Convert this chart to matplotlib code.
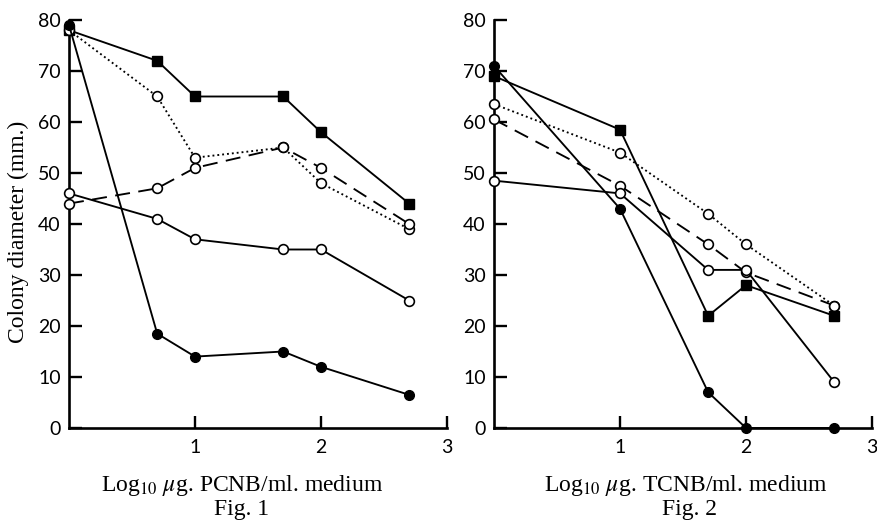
import numpy as np
import matplotlib
matplotlib.use("Agg")
import matplotlib.pyplot as plt

plt.rcParams['font.family'] = ['Lato', 'DejaVu Sans']
plt.rcParams['mathtext.fontset'] = 'stix'

# Fig. 1 - PCNB
x1 = [0, 0.7, 1, 1.7, 2, 2.7]
p_sq = [78, 72, 65, 65, 58, 44]
p_dot = [78, 65, 53, 55, 48, 39]
p_dash = [44, 47, 51, 55, 51, 40]
p_open = [46, 41, 37, 35, 35, 25]
p_fill = [79, 18.5, 14, 15, 12, 6.5]

# Fig. 2 - TCNB
x2 = [0, 1, 1.7, 2, 2.7]
t_fill = [71, 43, 7, 0, 0]
t_sq = [69, 58.5, 22, 28, 22]
t_dot = [63.5, 54, 42, 36, 24]
t_dash = [60.5, 47.5, 36, 30.5, 24]
t_open = [48.5, 46, 31, 31, 9]

xlabels = ['Log$_{10}$ $\\mu$g. PCNB/ml. medium', 'Log$_{10}$ $\\mu$g. TCNB/ml. medium']
figlabels = ['Fig. 1', 'Fig. 2']

W, H = 877, 521
fig = plt.figure(figsize=(W/100, H/100), dpi=100)

def px(l, b, r, t):
    return [l/W, 1 - b/H, (r-l)/W, (b-t)/H]

ax1 = fig.add_axes(px(69, 428, 447, 20))
ax2 = fig.add_axes(px(494, 428, 872, 20))

lw = 1.35
opn = dict(marker='o', ms=7, mfc='white', mec='black', mew=1.2, color='black', lw=lw, clip_on=False, zorder=5)
fil = dict(marker='o', ms=7, mfc='black', mec='black', color='black', lw=lw, clip_on=False, zorder=5)
sqr = dict(marker='s', ms=6.5, mfc='black', mec='black', color='black', lw=lw, clip_on=False, zorder=5)
dash = (0, (8, 4.5))
dots = (0, (1, 1.6))

ax1.plot(x1, p_sq, **sqr)
ax1.plot(x1, p_dot, ls=dots, **opn)
ax1.plot(x1, p_dash, ls=dash, **opn)
ax1.plot(x1, p_open, **opn)
ax1.plot(x1, p_fill, **fil)

ax2.plot(x2, t_fill, **fil)
ax2.plot(x2, t_sq, **sqr)
ax2.plot(x2, t_dot, ls=dots, **opn)
ax2.plot(x2, t_dash, ls=dash, **opn)
ax2.plot(x2, t_open, **opn)

for ax in (ax1, ax2):
    ax.set_xlim(0, 3)
    ax.set_ylim(0, 80)
    ax.set_xticks([1, 2, 3])
    ax.set_yticks(np.arange(0, 81, 10))
    ax.spines['top'].set_visible(False)
    ax.spines['right'].set_visible(False)
    for s in ('left', 'bottom'):
        ax.spines[s].set_linewidth(1.9)
        ax.spines[s].set_zorder(1)
    ax.tick_params(direction='in', length=9, width=1.7, labelsize=14, pad=6)
    ax.tick_params(axis='x', pad=8)
    ax.patch.set_alpha(0)

fig.text(242/W, 1 - 486/H, xlabels[0], ha='center', va='center', family='Liberation Serif', fontsize=17)
fig.text(686/W, 1 - 486/H, xlabels[1], ha='center', va='center', family='Liberation Serif', fontsize=17)
fig.text(242/W, 1 - 510/H, figlabels[0], ha='center', va='center', family='Liberation Serif', fontsize=17)
fig.text(690/W, 1 - 510/H, figlabels[1], ha='center', va='center', family='Liberation Serif', fontsize=17)
fig.text(18/W, 1 - 232/H, 'Colony diameter (mm.)', ha='center', va='center', rotation=90,
         family='Liberation Serif', fontsize=17)

fig.savefig('out.png', dpi=100)
